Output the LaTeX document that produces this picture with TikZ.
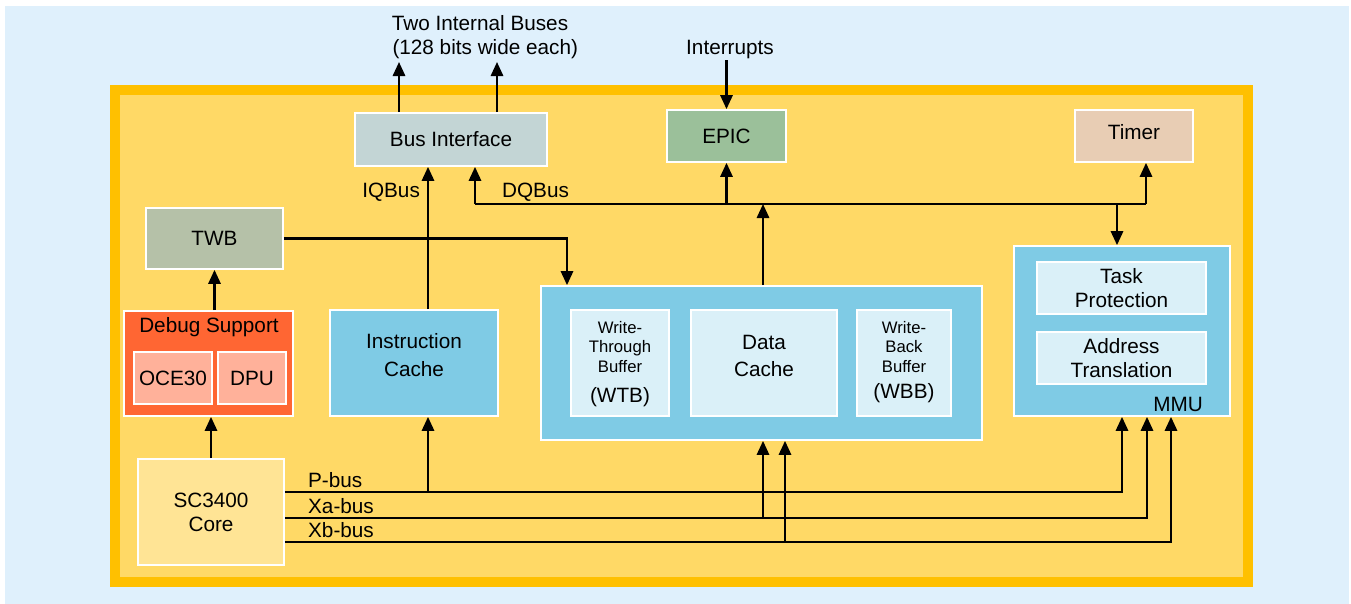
\documentclass[tikz,border=0pt]{standalone}
\usepackage{fontspec}
\setmainfont{Liberation Sans}
\usetikzlibrary{arrows.meta}
\definecolor{bgblue}{HTML}{DFF0FC}
\definecolor{frameor}{HTML}{FFC000}
\definecolor{chipyel}{HTML}{FFD966}
\definecolor{busgray}{HTML}{C3D5D5}
\definecolor{epicgreen}{HTML}{9BC09A}
\definecolor{timertan}{HTML}{E8CDB4}
\definecolor{twbgreen}{HTML}{B5C1A8}
\definecolor{dbgred}{HTML}{FF6633}
\definecolor{dbgpink}{HTML}{FFB19A}
\definecolor{cacheblue}{HTML}{7FCBE5}
\definecolor{paleblue}{HTML}{DAF0F8}
\definecolor{coreyel}{HTML}{FFE495}
\newcommand{\smallfnt}{\fontsize{9.5}{11}\selectfont}
\newcommand{\mainfnt}{\fontsize{11.8}{13.5}\selectfont}
\tikzset{
  blk/.style={draw=white, line width=1pt, inner sep=0pt, align=center,
    font=\mainfnt},
  lbl/.style={inner sep=0pt, font=\mainfnt},
  arr/.style={-{Triangle[length=8pt,width=7pt]}},
}
\begin{document}
\begin{tikzpicture}[x=0.02cm,y=-0.02cm,line width=1.3pt]
\useasboundingbox (0,0) rectangle (1351,604);
\fill[bgblue] (5,6) rectangle (1349,604);
% chip frame
\fill[frameor] (110,85) rectangle (1253,587);
\fill[chipyel] (120,95) rectangle (1243,577);
% blocks
\node[blk, fill=busgray, minimum width=3.84cm, minimum height=1.06cm] (busif) at (451,139.5) {Bus Interface};
\node[blk, fill=epicgreen, minimum width=2.38cm, minimum height=1.04cm] (epic) at (726.5,136) {EPIC};
\node[blk, fill=timertan, minimum width=2.36cm, minimum height=1.04cm] (timer) at (1134,136) {};
\node[lbl] (timerlbl) at (1134,132) {Timer};
\node[blk, fill=twbgreen, minimum width=2.74cm, minimum height=1.22cm] (twb) at (214.5,238.5) {TWB};
\node[blk, fill=dbgred, minimum width=3.38cm, minimum height=2.10cm] (debug) at (208.5,363.5) {};
\node[lbl] (dbgtitle) at (209,327) {Debug Support};
\node[blk, fill=dbgpink, minimum width=1.56cm, minimum height=1.04cm] (oce) at (173,378) {OCE30};
\node[blk, fill=dbgpink, minimum width=1.36cm, minimum height=1.04cm] (dpu) at (252,378) {DPU};
\node[blk, fill=cacheblue, minimum width=3.36cm, minimum height=2.12cm] (icache) at (414,363) {};
\node[lbl, align=center] (iclbl) at (414,355) {Instruction\\[2pt]Cache};
\node[blk, fill=cacheblue, minimum width=8.82cm, minimum height=3.08cm] (dblock) at (761.5,363) {};
\node[blk, fill=paleblue, minimum width=1.96cm, minimum height=2.12cm] (wtb) at (620,363) {};
\node[lbl, align=center, font=\smallfnt] (wtblbl) at (620,347) {Write-\\Through\\Buffer};
\node[lbl] (wtbabbr) at (620,397) {(WTB)};
\node[blk, fill=paleblue, minimum width=2.92cm, minimum height=2.12cm] (dcache) at (764,363) {};
\node[lbl, align=center] (dclbl) at (764,356) {Data\\[2pt]Cache};
\node[blk, fill=paleblue, minimum width=1.88cm, minimum height=2.12cm] (wbb) at (904,363) {};
\node[lbl, align=center, font=\smallfnt] (wbblbl) at (904,347) {Write-\\Back\\Buffer};
\node[lbl] (wbbabbr) at (904,393) {(WBB)};
\node[blk, fill=cacheblue, minimum width=4.32cm, minimum height=3.40cm] (mmu) at (1122,331) {};
\node[blk, fill=paleblue, minimum width=3.38cm, minimum height=1.04cm] (task) at (1121.5,288) {Task\\Protection};
\node[blk, fill=paleblue, minimum width=3.38cm, minimum height=1.04cm] (addr) at (1121.5,358) {Address\\Translation};
\node[lbl, anchor=base east] (mmulbl) at (1204,411) {MMU};
\node[blk, fill=coreyel, minimum width=2.92cm, minimum height=2.12cm] (core) at (211,512) {SC3400\\Core};
% outside labels
\node[lbl, align=center] (buses) at (480,37) {Two Internal Buses\\\hspace*{6pt}(128 bits wide each)};
\node[lbl] (intr) at (730,50) {Interrupts};
\node[lbl, anchor=east] (iqlbl) at (421,192) {IQBus};
\node[lbl, anchor=west] (dqlbl) at (501,192) {DQBus};
\node[lbl, anchor=west] (plbl) at (307,480) {P-bus};
\node[lbl, anchor=west] (xalbl) at (307,506) {Xa-bus};
\node[lbl, anchor=west] (xblbl) at (307,530) {Xb-bus};
% bus coordinates
\coordinate (out1) at (399,62);
\coordinate (out2) at (497,62);
\coordinate (iq) at (428,0);
\coordinate (dq) at (475,204);
\coordinate (dqe) at (1146,204);
\coordinate (pbus) at (core.east |- 0,492);
\coordinate (xabus) at (core.east |- 0,518);
\coordinate (xbbus) at (core.east |- 0,542);
% connectors
\draw[arr] (busif.north -| out1) -- (out1);
\draw[arr] (busif.north -| out2) -- (out2);
\draw[arr] (intr.south -| epic) -- (epic.north);
\draw[arr] (icache.north -| iq) -- (busif.south -| iq);
\draw[arr] (dq) -- (busif.south -| dq);
\draw (dq) -- (dqe);
\draw[arr] (dqe) -- (timer.south -| dqe);
\draw[arr] (dq -| epic) -- (epic.south);
\draw[arr] (dblock.north -| 763,0) -- (dq -| 763,0);
\draw[arr] (dq -| 1117,0) -- (mmu.north -| 1117,0);
\draw[arr] (twb.east) -| (dblock.north -| 567,0);
\draw[arr] (debug.north -| twb) -- (twb.south);
\draw[arr] (core.north) -- (debug.south -| core);
\draw[arr] (pbus) -| (mmu.south -| 1122,0);
\draw[arr] (xabus) -| (mmu.south -| 1147,0);
\draw[arr] (xbbus) -| (mmu.south -| 1171,0);
\draw[arr] (pbus -| iq) -- (icache.south -| iq);
\draw[arr] (xabus -| 763,0) -- (dblock.south -| 763,0);
\draw[arr] (xbbus -| 785,0) -- (dblock.south -| 785,0);
\end{tikzpicture}
\end{document}
